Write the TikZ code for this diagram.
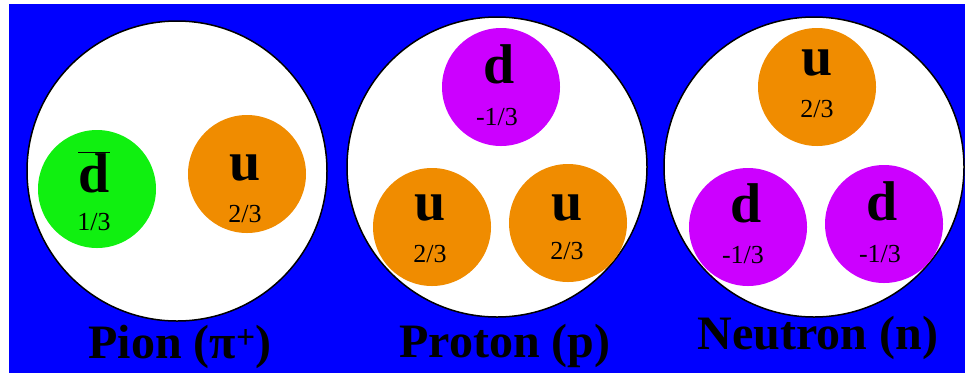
\documentclass[tikz,border=0pt]{standalone}
\usepackage{fontspec}
\setmainfont{Liberation Serif}
\usepackage{tikz}
\definecolor{bgblue}{RGB}{0,0,255}
\definecolor{qgreen}{RGB}{16,240,16}
\definecolor{qorange}{RGB}{240,140,0}
\definecolor{qviolet}{RGB}{204,0,255}

\begin{document}
\begin{tikzpicture}[x=1pt,y=-1pt,
  hadron/.style={circle,draw=black,line width=1.5pt,fill=white,minimum size=300pt,inner sep=0pt},
  quark/.style={circle,minimum size=118pt,inner sep=0pt},
  flav/.style={anchor=base,inner sep=0pt,font=\fontsize{56}{56}\selectfont\bfseries},
  chg/.style={anchor=base,inner sep=0pt,font=\fontsize{26}{26}\selectfont},
  hname/.style={anchor=base,inner sep=0pt,font=\fontsize{48}{48}\selectfont\bfseries}
]
\useasboundingbox (0,0) rectangle (965,373);
\fill[bgblue] (9,4) rectangle (965,373);

% pion
\node[hadron] (pion) at (177,171) {};
\node[quark,fill=qgreen] (pidbar) at (97,189) {};
\node[quark,fill=qorange] (piu) at (247,174) {};
\node[flav] (pidbarf) at (94,192) {$\overline{\mbox{d}}$};
\node[chg] (pidbarc) at (94,230) {1/3};
\node[flav] (piuf) at (245,180) {u};
\node[chg] (piuc) at (245,222) {2/3};
\node[hname] (pionlbl) at (180,358) {Pion (π\textsuperscript{+})};

% proton
\node[hadron] (proton) at (497,167) {};
\node[quark,fill=qviolet] (prd) at (501,87) {};
\node[quark,fill=qorange] (pru1) at (432,227) {};
\node[quark,fill=qorange] (pru2) at (568,223) {};
\node[flav] (prdf) at (499,83) {d};
\node[chg] (prdc) at (497,125) {-1/3};
\node[flav] (pru1f) at (430,220) {u};
\node[chg] (pru1c) at (430,262) {2/3};
\node[flav] (pru2f) at (567,220) {u};
\node[chg] (pru2c) at (567,259) {2/3};
\node[hname] (protonlbl) at (505,357) {Proton (p)};

% neutron
\node[hadron] (neutron) at (814,167) {};
\node[quark,fill=qorange] (nu) at (817,87) {};
\node[quark,fill=qviolet] (nd1) at (748,227) {};
\node[quark,fill=qviolet] (nd2) at (884,224) {};
\node[flav] (nuf) at (817,75) {u};
\node[chg] (nuc) at (817,117) {2/3};
\node[flav] (nd1f) at (746,222) {d};
\node[chg] (nd1c) at (743,263) {-1/3};
\node[flav] (nd2f) at (882,220) {d};
\node[chg] (nd2c) at (880,262) {-1/3};
\node[hname] (neutronlbl) at (818,349) {Neutron (n)};
\end{tikzpicture}
\end{document}
